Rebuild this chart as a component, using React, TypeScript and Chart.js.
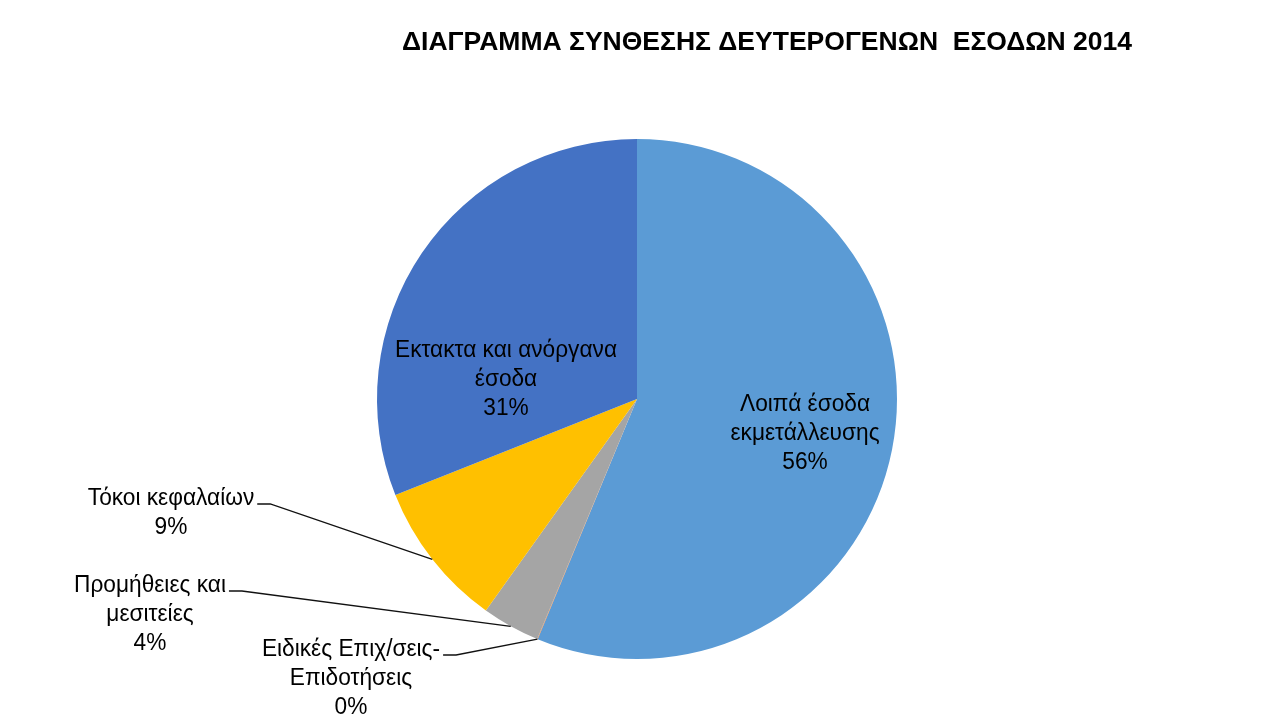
import React, { useEffect, useRef } from "react";
import { Chart, registerables } from "chart.js";

Chart.register(...registerables);

// ---- data ----
const TITLE = "ΔΙΑΓΡΑΜΜΑ ΣΥΝΘΕΣΗΣ ΔΕΥΤΕΡΟΓΕΝΩΝ  ΕΣΟΔΩΝ 2014";
const CATEGORIES: string[][] = [
  ["Λοιπά έσοδα", "εκμετάλλευσης"],
  ["Ειδικές Επιχ/σεις-", "Επιδοτήσεις"],
  ["Προμήθειες και", "μεσιτείες"],
  ["Τόκοι κεφαλαίων"],
  ["Εκτακτα και ανόργανα", "έσοδα"],
];
const VALUES = [56.2, 0.03, 3.6, 9.1, 31.0];
const PERCENT_LABELS = ["56%", "0%", "4%", "9%", "31%"];
const COLORS = ["#5B9BD5", "#ED7D31", "#A5A5A5", "#FFC000", "#4472C4"];

// ---- layout / style ----
const FONT_FAMILY = '"Liberation Sans", Arial, sans-serif';
const BODY_SIZE = 23;
const TITLE_SIZE = 25;
const LINE_H = 29;
const BODY_REF_TEXT = "Εκτακτα και ανόργανα";
const BODY_REF_WIDTH = 222;
const TITLE_REF_WIDTH = 730;
const TITLE_POS = { x: 767, y: 43 };
const LABEL_LAYOUT = [
  { x: 805, y: 405, leader: false },
  { x: 351, y: 650, leader: true },
  { x: 150, y: 586, leader: true },
  { x: 171, y: 499, leader: true },
  { x: 506, y: 351, leader: false },
];

const labelPlugin = {
  id: "excelLabels",
  afterDraw(chart: any) {
    const ctx: CanvasRenderingContext2D = chart.ctx;
    const meta = chart.getDatasetMeta(0);
    ctx.save();
    ctx.fillStyle = "#000";
    ctx.textAlign = "center";
    ctx.textBaseline = "middle";

    // title
    ctx.font = `bold ${TITLE_SIZE}px ${FONT_FAMILY}`;
    const tsx = TITLE_REF_WIDTH / ctx.measureText(TITLE).width;
    ctx.save();
    ctx.translate(TITLE_POS.x, TITLE_POS.y);
    ctx.scale(tsx, 1);
    ctx.fillText(TITLE, 0, 0);
    ctx.restore();

    // labels
    ctx.font = `${BODY_SIZE}px ${FONT_FAMILY}`;
    const bsx = BODY_REF_WIDTH / ctx.measureText(BODY_REF_TEXT).width;
    meta.data.forEach((arc: any, i: number) => {
      const p = LABEL_LAYOUT[i];
      const lines = [...CATEGORIES[i], PERCENT_LABELS[i]];
      lines.forEach((t, k) => {
        ctx.save();
        ctx.translate(p.x, p.y + k * LINE_H);
        ctx.scale(bsx, 1);
        ctx.fillText(t, 0, 0);
        ctx.restore();
      });
      if (p.leader) {
        const { x, y, startAngle, endAngle, outerRadius } = arc.getProps(
          ["x", "y", "startAngle", "endAngle", "outerRadius"],
          true
        );
        const mid = (startAngle + endAngle) / 2;
        const ex = x + outerRadius * Math.cos(mid);
        const ey = y + outerRadius * Math.sin(mid);
        const w = ctx.measureText(lines[0]).width * bsx;
        const lx = p.x + w / 2 + 3;
        const ly = p.y + 5;
        ctx.strokeStyle = "#111";
        ctx.lineWidth = 1.3;
        ctx.beginPath();
        ctx.moveTo(lx, ly);
        ctx.lineTo(lx + 13, ly);
        ctx.lineTo(ex, ey);
        ctx.stroke();
      }
    });
    ctx.restore();
  },
};

export default function App() {
  const ref = useRef<HTMLCanvasElement | null>(null);
  useEffect(() => {
    if (!ref.current) return;
    const chart = new Chart(ref.current, {
      type: "pie",
      data: {
        labels: CATEGORIES.map((c) => c.join(" ")),
        datasets: [
          {
            data: VALUES,
            backgroundColor: COLORS,
            borderWidth: 0,
          },
        ],
      },
      options: {
        animation: false,
        responsive: false,
        layout: { padding: { top: 139, bottom: 62, left: 377, right: 375 } },
        plugins: {
          legend: { display: false },
          title: { display: false },
          tooltip: { enabled: false },
        },
      },
      plugins: [labelPlugin],
    });
    return () => chart.destroy();
  }, []);
  return (
    <div style={{ position: "fixed", left: 0, top: 0, width: 1272, height: 721, background: "#fff" }}>
      <canvas ref={ref} width={1272} height={721} />
    </div>
  );
}
